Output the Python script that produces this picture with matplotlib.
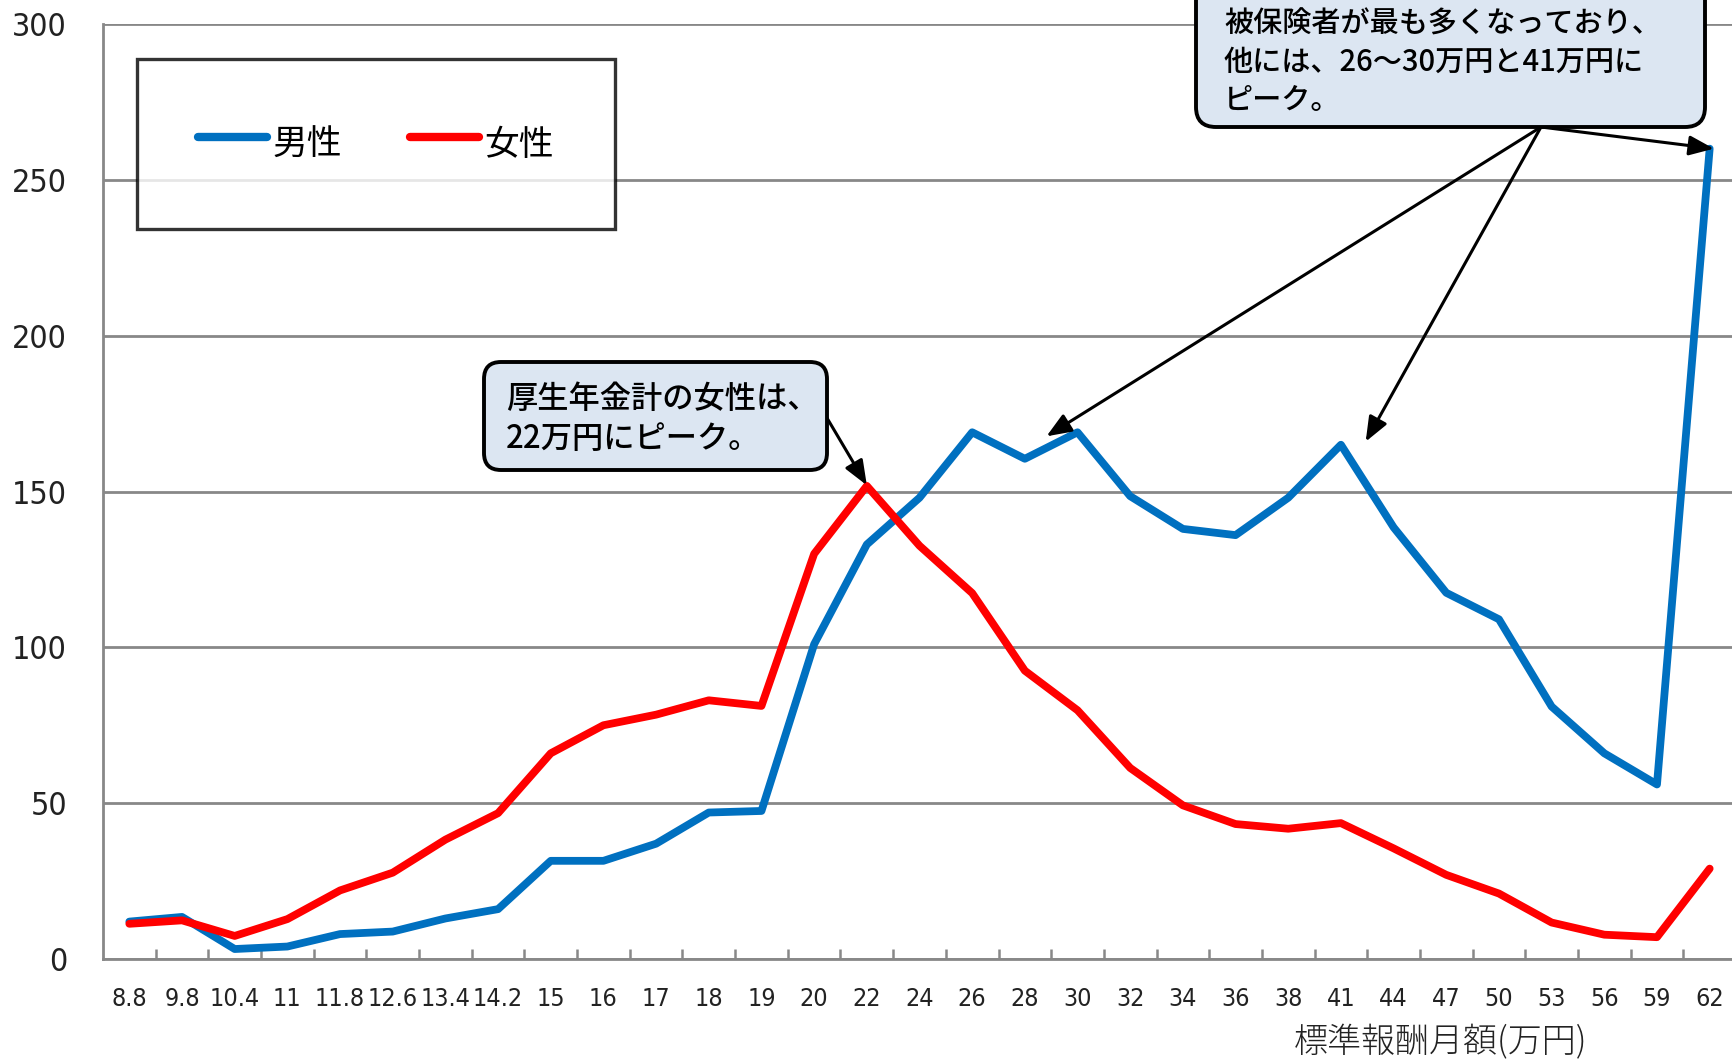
import matplotlib
matplotlib.use("Agg")
import matplotlib.pyplot as plt
from matplotlib import font_manager
from matplotlib.patches import FancyBboxPatch
from matplotlib.transforms import Affine2D

# ---- data ----
categories = ["8.8", "9.8", "10.4", "11", "11.8", "12.6", "13.4", "14.2", "15", "16",
              "17", "18", "19", "20", "22", "24", "26", "28", "30", "32",
              "34", "36", "38", "41", "44", "47", "50", "53", "56", "59", "62"]
male = [12, 13.5, 3.2, 4, 8, 8.8, 13, 16, 31.5, 31.5,
        37, 47, 47.5, 101, 133, 148, 169, 160.5, 169, 148.5,
        138, 136, 148, 165, 138.5, 117.5, 109, 81, 66, 56, 260]
female = [11.3, 12.4, 7.4, 12.8, 22, 27.7, 38.3, 46.8, 66, 75,
          78.4, 83, 81.2, 130, 151.8, 132.6, 117.4, 92.5, 79.8, 61.3,
          49.3, 43.3, 41.8, 43.6, 35.5, 27, 21, 11.7, 7.8, 7, 29]
series_labels = ["男性", "女性"]
yticks = [0, 50, 100, 150, 200, 250, 300]
xlabel = "標準報酬月額(万円)"
note1 = "厚生年金計の女性は、\n22万円にピーク。"
note2 = "被保険者が最も多くなっており、\n他には、26～30万円と41万円に\nピーク。"

W, H = 1733, 1060
names = {f.name for f in font_manager.fontManager.ttflist}
num_font = "Liberation Sans Narrow" if "Liberation Sans Narrow" in names else "DejaVu Sans"
jp = ["Noto Sans CJK JP", "DejaVu Sans"]
plt.rcParams["font.family"] = jp

fig = plt.figure(figsize=(W / 100, H / 100), dpi=100)
ax = fig.add_axes([103 / W, 1 - 959 / H, (1736 - 103) / W, (959 - 24) / H])
px = Affine2D().scale(1 / W, -1 / H).translate(0, 1) + fig.transFigure

x = list(range(len(categories)))
blue = "#0070C0"
red = "#FF0000"
ax.plot(x, male, color=blue, lw=5.6, solid_joinstyle="round", solid_capstyle="round",
        label=series_labels[0], zorder=3)
ax.plot(x, female, color=red, lw=5.6, solid_joinstyle="round", solid_capstyle="round",
        label=series_labels[1], zorder=3)

ax.set_xlim(-0.5, len(categories) - 0.5)
ax.set_ylim(0, 300)
ax.set_yticks(yticks)
ax.set_yticklabels([str(v) for v in yticks], fontsize=23, family=num_font,
                   fontstretch="condensed", color="#222222")
ax.tick_params(axis="y", length=0, pad=26)
ax.set_xticks(x)
ax.set_xticklabels(categories, fontsize=18, family=num_font, fontstretch="condensed",
                   color="#222222")
ax.set_xticks([i + 0.5 for i in range(len(categories) - 1)], minor=True)
ax.tick_params(axis="x", which="major", length=0, pad=20)
ax.tick_params(axis="x", which="minor", direction="in", length=7, width=1.8, color="#888888")
ax.grid(axis="y", color="#888888", lw=2)
ax.set_axisbelow(True)
for s in ["top", "right"]:
    ax.spines[s].set_visible(False)
for s in ["left", "bottom"]:
    ax.spines[s].set_color("#888888")
    ax.spines[s].set_linewidth(2)

fig.text(1441 / W, 1 - 1042 / H, xlabel, ha="center", va="center", fontsize=24.5,
         family=jp, fontweight="light", color="#222222")

leg = ax.legend(loc="upper left", bbox_to_anchor=(34 / 1633, 1 - 35 / 935), ncol=2,
                fontsize=25, frameon=True, fancybox=False, edgecolor="black",
                borderpad=1.75, handlelength=2.0, handleheight=1.75, handletextpad=0.15,
                columnspacing=1.95, borderaxespad=0)
leg.get_frame().set_linewidth(2.4)
for ln in leg.get_lines():
    ln.set_linewidth(6)
    ln.set_solid_capstyle("round")

box_face = "#DCE6F2"
# note 1 box
b1 = FancyBboxPatch((484, 362), 343, 108, boxstyle="round,pad=0,rounding_size=17",
                    transform=px, facecolor=box_face, edgecolor="black", lw=2.8, zorder=5)
fig.add_artist(b1)
fig.text(506 / W, 1 - 419 / H, note1, ha="left", va="center", fontsize=22.5,
         linespacing=1.3, family=jp, fontweight="medium", zorder=6)
# note 2 box
b2 = FancyBboxPatch((1196, -40), 509, 167, boxstyle="round,pad=0,rounding_size=20",
                    transform=px, facecolor=box_face, edgecolor="black", lw=2.8, zorder=5)
fig.add_artist(b2)
fig.text(1224 / W, 1 - 62 / H, note2, ha="left", va="center", fontsize=21,
         linespacing=1.3, family=jp, fontweight="medium", zorder=6)

arrow = dict(arrowstyle="-|>,head_length=0.75,head_width=0.3", color="black", lw=2.2,
             shrinkA=0, shrinkB=0, mutation_scale=20)
ax.annotate("", xy=(14, 152), xycoords="data", xytext=(827, 418), textcoords=px,
            arrowprops=arrow, zorder=7)
for tx, ty in [(17.41, 167.7), (23.47, 166), (30.08, 260)]:
    ax.annotate("", xy=(tx, ty), xycoords="data", xytext=(1541, 127), textcoords=px,
                arrowprops=arrow, zorder=7, annotation_clip=False)

fig.savefig("out.png", dpi=100)
